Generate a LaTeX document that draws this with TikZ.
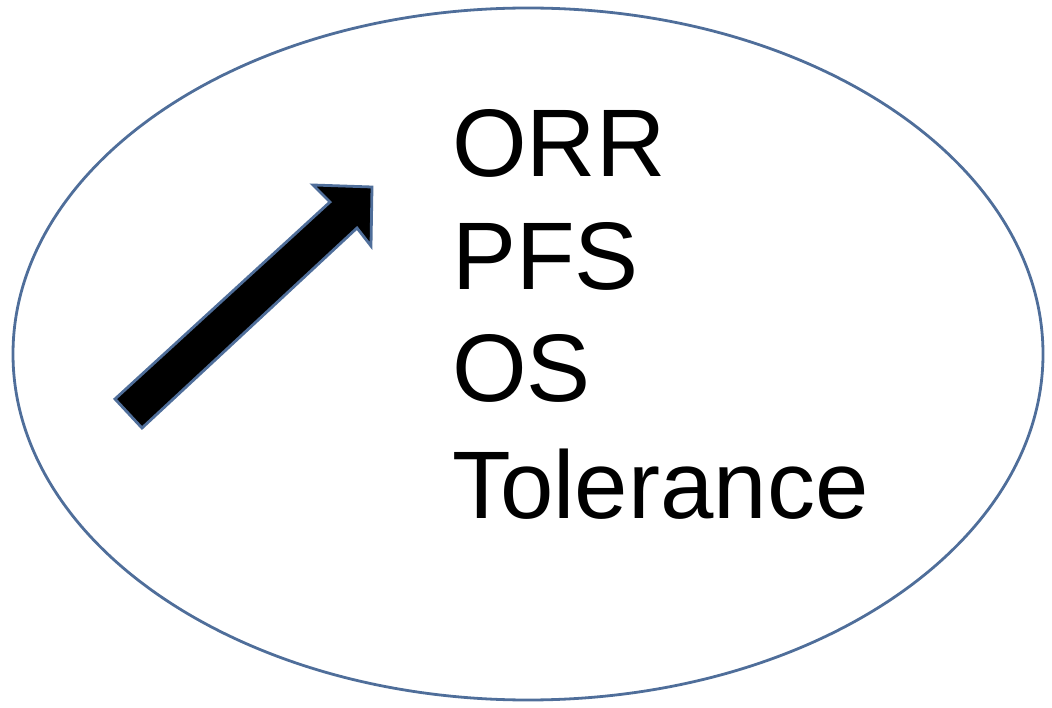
\documentclass[tikz,border=0pt]{standalone}
\usepackage{fontspec}
\setmainfont{Liberation Sans}
\definecolor{edgeblue}{HTML}{4F6E9A}
\begin{document}
\begin{tikzpicture}[x=1pt,y=-1pt,
  lbl/.style={anchor=base west,inner sep=0pt,font=\fontsize{96}{110}\selectfont},
  outline/.style={draw=edgeblue,line width=2.8pt}]
\useasboundingbox (0,0) rectangle (1052,708);
\draw[outline] (528,354) ellipse [x radius=515, y radius=346];
\filldraw[outline,fill=black,line join=miter]
  (115,399) -- (330,202) -- (313,185) -- (372,187) -- (371,246) -- (357,228) -- (142,428) -- cycle;
\node[lbl] (orr) at (452,177) {ORR};
\node[lbl] (pfs) at (452,290) {PFS};
\node[lbl] (os)  at (452,402) {OS};
\node[lbl] (tol) at (452,518) {Tolerance};
\end{tikzpicture}
\end{document}
